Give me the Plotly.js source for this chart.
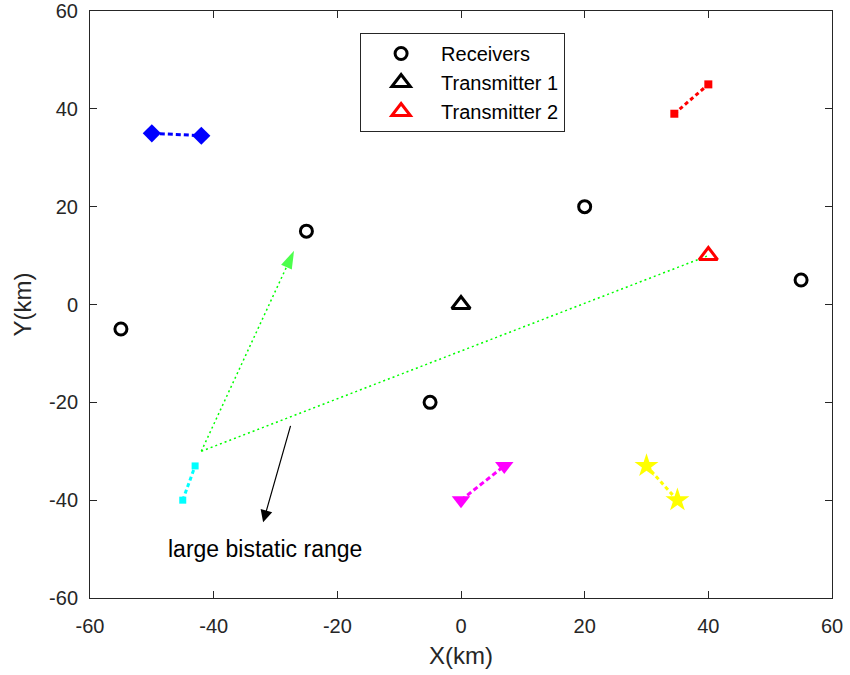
<!DOCTYPE html>
<html>
<head>
<meta charset="utf-8">
<script src="https://cdn.plot.ly/plotly-3.0.1.min.js"></script>
<style>
  html, body { margin: 0; padding: 0; background: #ffffff; }
  #chart { width: 850px; height: 675px; }
</style>
</head>
<body>
<div id="chart"></div>
<script>
// Receiver and transmitter positions (km)
const receiversX = [-55, -25, -5, 20, 55];
const receiversY = [-5, 15, -20, 20, 5];
const tx1X = [0];
const tx1Y = [0];
const tx2X = [40];
const tx2Y = [10];

// Target tracks (start, end) in km
const blueX = [-50, -42];
const blueY = [35, 34.5];
const redX = [34.5, 40];
const redY = [39, 45];
const cyanX = [-45, -43];
const cyanY = [-40, -33];
const magentaX = [0, 7];
const magentaY = [-40, -33];
const yellowX = [30, 35];
const yellowY = [-33, -40];

// Bistatic geometry: target -> receiver direction, target -> transmitter 2
const greenArrowX = [-42, -27];
const greenArrowY = [-30, 11];
const greenPathX = [-42, 40];
const greenPathY = [-30, 10];

// Callout for the long bistatic path
const calloutTail = [-27.5, -24.5];
const calloutTip = [-32, -44.5];
const calloutLabel = 'large bistatic range';
const calloutLabelPos = [-31.7, -50];

const axisTicks = [-60, -40, -20, 0, 20, 40, 60];

const ink = '#262626';
const font = 'Arial, "Liberation Sans", Helvetica, sans-serif';

function track(x, y, color, symbol, size, dash) {
  return {
    x: x, y: y, type: 'scatter', mode: 'lines+markers', showlegend: false,
    line: {color: color, width: 3, dash: dash},
    marker: {symbol: symbol, size: size, color: color, line: {width: 0}},
    hoverinfo: 'skip'
  };
}

const traces = [
  {
    x: greenPathX, y: greenPathY, type: 'scatter', mode: 'lines', showlegend: false,
    line: {color: '#00ff00', width: 1.5, dash: '2px,3px'}, hoverinfo: 'skip'
  },
  {
    x: greenArrowX, y: greenArrowY, type: 'scatter', mode: 'lines+markers', showlegend: false,
    line: {color: '#00ff00', width: 1.5, dash: '2px,3px'},
    marker: {symbol: 'arrow', angleref: 'previous', size: [0, 19], color: '#00ff00', line: {width: 0}},
    hoverinfo: 'skip'
  },
  track(blueX, blueY, '#0000ff', 'diamond', 14, '5px,3px'),
  track(redX, redY, '#ff0000', 'square', 8, '4px,3px'),
  track(cyanX, cyanY, '#00ffff', 'square', 7, '4px,3px'),
  track(magentaX, magentaY, '#ff00ff', 'triangle-down', 16, '5px,3px'),
  track(yellowX, yellowY, '#ffff00', 'star', 18, '4px,3px'),
  {
    x: receiversX, y: receiversY, type: 'scatter', mode: 'markers', name: 'Receivers',
    marker: {symbol: 'circle-open', size: 12, color: '#000000', line: {width: 3, color: '#000000'}}
  },
  {
    x: tx1X, y: tx1Y, type: 'scatter', mode: 'markers', name: 'Transmitter 1',
    marker: {symbol: 'triangle-up-open', size: 16, color: '#000000', line: {width: 3, color: '#000000'}}
  },
  {
    x: tx2X, y: tx2Y, type: 'scatter', mode: 'markers', name: 'Transmitter 2',
    marker: {symbol: 'triangle-up-open', size: 16, color: '#ff0000', line: {width: 3, color: '#ff0000'}}
  }
];

const axisCommon = {
  range: [-60, 60], tickvals: axisTicks, ticktext: axisTicks.map(String),
  showgrid: false, zeroline: false, showline: true, mirror: 'ticks',
  linecolor: ink, linewidth: 1, ticks: 'inside', ticklen: 7, tickwidth: 1, tickcolor: ink,
  tickfont: {family: font, size: 20, color: ink}, fixedrange: true
};

const layout = {
  width: 850, height: 675,
  margin: {l: 90, r: 18, t: 11, b: 77},
  paper_bgcolor: '#ffffff', plot_bgcolor: '#ffffff',
  font: {family: font, color: ink},
  xaxis: Object.assign({}, axisCommon, {
    ticklabelstandoff: 10,
    title: {text: 'X(km)', font: {family: font, size: 24, color: ink}, standoff: 11}
  }),
  yaxis: Object.assign({}, axisCommon, {
    ticklabelstandoff: 7,
    title: {text: 'Y(km)', font: {family: font, size: 24, color: ink}, standoff: 10}
  }),
  legend: {
    x: 0.364, y: 0.9625, xanchor: 'left', yanchor: 'top',
    bgcolor: '#ffffff', bordercolor: ink, borderwidth: 1,
    font: {family: font, size: 20, color: '#000000'},
    itemwidth: 70
  },
  annotations: [
    {
      x: calloutTip[0], y: calloutTip[1], ax: calloutTail[0], ay: calloutTail[1],
      xref: 'x', yref: 'y', axref: 'x', ayref: 'y', text: '',
      showarrow: true, arrowhead: 2, arrowsize: 2, arrowwidth: 1.2, arrowcolor: '#000000'
    },
    {
      x: calloutLabelPos[0], y: calloutLabelPos[1], xref: 'x', yref: 'y',
      text: calloutLabel, showarrow: false,
      font: {family: font, size: 23, color: '#000000'}
    }
  ]
};

Plotly.newPlot('chart', traces, layout, {displayModeBar: false, staticPlot: true});
</script>
</body>
</html>
